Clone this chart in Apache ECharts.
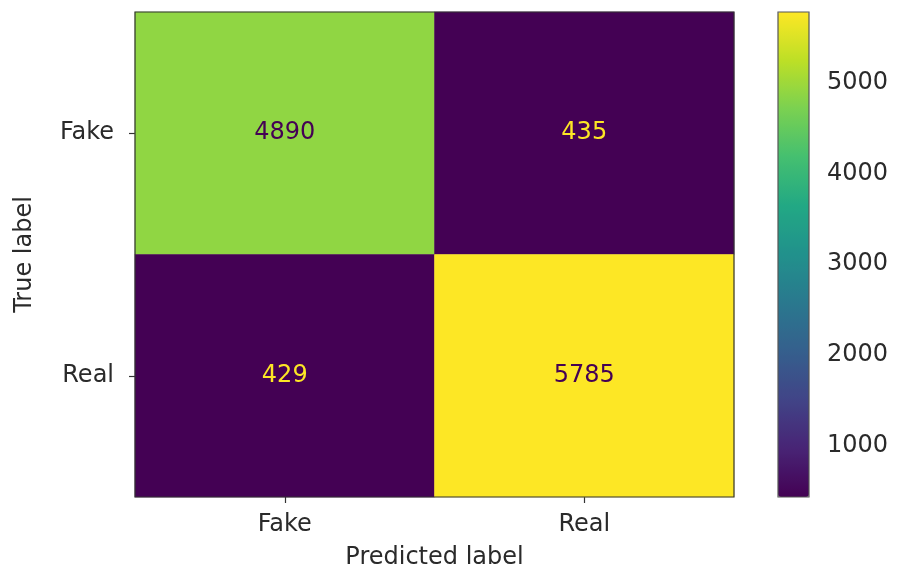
<!DOCTYPE html>
<html>
<head>
<meta charset="utf-8">
<script src="https://cdn.jsdelivr.net/npm/echarts@6/dist/echarts.min.js"></script>
<style>html,body{margin:0;padding:0;background:#fff}#c{width:898px;height:568px}</style>
</head>
<body>
<div id="c"></div>
<script>
const predictedLabels = ['Fake', 'Real'];
const trueLabels = ['Fake', 'Real'];
// rows = true label, columns = predicted label
const rowFake = [4890, 435];
const rowReal = [429, 5785];
const colorbarTicks = [1000, 2000, 3000, 4000, 5000];

const viridis = ['#440154','#482475','#414487','#355f8d','#2a788e','#21918c','#22a884','#44bf70','#7ad151','#bddf26','#fde725'];
const rows = [rowFake, rowReal];
const all = rows.flat();
const vmin = Math.min(...all), vmax = Math.max(...all);
const thresh = (vmin + vmax) / 2;
const data = [];
rows.forEach((r, i) => r.forEach((v, j) => {
  data.push({ value: [j, i, v], label: { color: v < thresh ? '#fde725' : '#440154' } });
}));

const font = 'DejaVu Sans';
const txt = '#2a2a2a';
const fs = 24;
const chart = echarts.init(document.getElementById('c'));
chart.setOption({
  backgroundColor: '#ffffff',
  animation: false,
  textStyle: { fontFamily: font },
  grid: [
    { left: 135, right: 164, top: 12, bottom: 71, outerBoundsMode: 'none', containLabel: false, show: true, borderColor: '#333', borderWidth: 1.2, backgroundColor: 'transparent', z: 5 },
    { left: 778, width: 31, top: 12, height: 485, outerBoundsMode: 'none', containLabel: false, show: true, borderColor: '#555', borderWidth: 1.2, backgroundColor: 'transparent', z: 5 }
  ],
  xAxis: [
    { type: 'category', data: predictedLabels, gridIndex: 0,
      name: 'Predicted label', nameLocation: 'middle', nameGap: 49,
      nameTextStyle: { fontSize: fs, color: txt, fontFamily: font },
      axisLine: { show: false },
      axisTick: { show: true, alignWithLabel: true, length: 6, lineStyle: { color: '#333', width: 1.2 } },
      axisLabel: { fontSize: fs, color: txt, margin: 16, fontFamily: font },
      splitLine: { show: false } },
    { type: 'value', gridIndex: 1, show: false, min: 0, max: 1 }
  ],
  yAxis: [
    { type: 'category', data: trueLabels, gridIndex: 0, inverse: true,
      name: 'True label', nameLocation: 'middle', nameGap: 98, nameRotate: 90,
      nameTextStyle: { fontSize: fs, color: txt, fontFamily: font },
      axisLine: { show: false },
      axisTick: { show: true, alignWithLabel: true, length: 6, lineStyle: { color: '#333', width: 1.2 } },
      axisLabel: { fontSize: fs, color: txt, margin: 21, fontFamily: font },
      splitLine: { show: false } },
    { type: 'value', gridIndex: 1, position: 'right', min: vmin, max: vmax,
      axisLine: { show: false },
      axisTick: { show: true, length: 6, customValues: colorbarTicks, lineStyle: { color: '#333', width: 1.2 } },
      axisLabel: { fontSize: fs, color: txt, margin: 18, customValues: colorbarTicks, fontFamily: font, formatter: v => String(v) },
      splitLine: { show: false } }
  ],
  visualMap: {
    type: 'continuous', min: vmin, max: vmax, calculable: false, seriesIndex: 0,
    orient: 'vertical', left: 778, top: 12, itemWidth: 31, itemHeight: 485,
    padding: 0, text: null, showLabel: false,
    inRange: { color: viridis }
  },
  series: [{
    type: 'heatmap', xAxisIndex: 0, yAxisIndex: 0, data: data,
    label: { show: true, fontSize: fs, fontFamily: font, formatter: p => String(p.value[2]) },
    itemStyle: { borderWidth: 0 },
    emphasis: { disabled: true }
  }]
});
</script>
</body>
</html>
